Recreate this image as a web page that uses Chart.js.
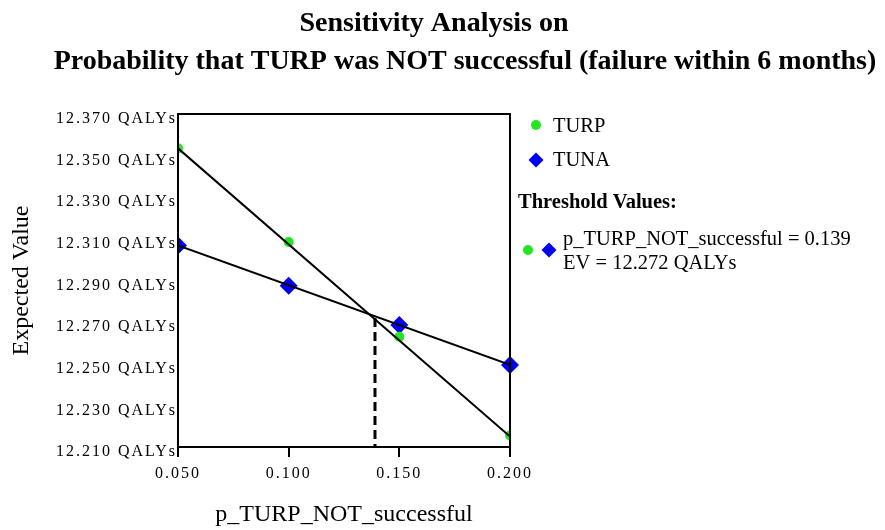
<!DOCTYPE html>
<html>
<head>
<meta charset="utf-8">
<script src="https://cdn.jsdelivr.net/npm/chart.js@4"></script>
<style>
  body { margin: 0; background: #fff; }
  #wrap { width: 885px; height: 530px; }
</style>
</head>
<body>
<div id="wrap"><canvas id="myChart" width="885" height="530"></canvas></div>
<script>
// values
let xValues = [0.05, 0.10, 0.15, 0.20];
let turpEV = [12.3535, 12.3085, 12.2630, 12.2155];
let tunaEV = [12.3068, 12.2875, 12.2686, 12.2494];
// fitted lines as drawn (ends at 0.050 and 0.200)
let lineX = [0.05, 0.20];
let turpLine = [12.3535, 12.2150];
let tunaLine = [12.3068, 12.2495];
let thresholdX = 0.139;
let thresholdEV = 12.272;
let yTicks = [12.21, 12.23, 12.25, 12.27, 12.29, 12.31, 12.33, 12.35, 12.37];
let xTicks = [0.05, 0.10, 0.15, 0.20];

const green = "#22e622";
const blue = "#0000f0";
const serif = "'Liberation Serif', 'Times New Roman', serif";

function pts(xs, ys) {
  return xs.map((x, i) => ({ x: x, y: ys[i] }));
}

// spaced-out tick text like the original export
function spaceLabels(scale, dy) {
  let orig = scale.drawLabels;
  scale.drawLabels = function (area) {
    let c = this.ctx;
    c.save();
    c.letterSpacing = "2px";
    c.translate(0, dy);
    orig.call(this, area);
    c.restore();
  };
}

const extras = {
  id: "extras",
  afterLayout(chart) {
    if (!chart.scales.y._spaced) {
      spaceLabels(chart.scales.y, 5);
      spaceLabels(chart.scales.x, 0);
      chart.scales.y._spaced = true;
    }
  },
  afterDraw(chart) {
    let c = chart.ctx;
    let a = chart.chartArea;
    c.save();
    c.letterSpacing = "0px";
    // frame
    c.strokeStyle = "#000";
    c.lineWidth = 2;
    c.strokeRect(a.left, a.top, a.right - a.left, a.bottom - a.top);

    // title
    c.fillStyle = "#000";
    c.textAlign = "center";
    c.textBaseline = "middle";
    c.font = "bold 28px " + serif;
    c.fillText("Sensitivity Analysis on", 434, 24);
    c.fillText("Probability that TURP was NOT successful (failure within 6 months)", 465, 62);

    // legend
    c.textAlign = "left";
    c.font = "20.5px " + serif;
    c.fillStyle = green;
    c.beginPath(); c.arc(536, 125, 5, 0, Math.PI * 2); c.fill();
    c.fillStyle = blue;
    diamond(c, 536, 160, 7.5);
    c.fillStyle = "#000";
    c.fillText(chart.data.datasets[0].label, 553, 127);
    c.fillText(chart.data.datasets[1].label, 553, 161);

    c.font = "bold 20.5px " + serif;
    c.fillText("Threshold Values:", 518, 203);

    c.fillStyle = green;
    c.beginPath(); c.arc(528, 250, 5, 0, Math.PI * 2); c.fill();
    c.fillStyle = blue;
    diamond(c, 549, 250, 7.5);
    c.fillStyle = "#000";
    c.font = "20.5px " + serif;
    c.fillText("p_TURP_NOT_successful = " + thresholdX.toFixed(3), 563, 240);
    c.fillText("EV = " + thresholdEV.toFixed(3) + " QALYs", 563, 264);
    c.restore();
  }
};

function diamond(c, x, y, r) {
  c.beginPath();
  c.moveTo(x, y - r);
  c.lineTo(x + r, y);
  c.lineTo(x, y + r);
  c.lineTo(x - r, y);
  c.closePath();
  c.fill();
}

let ctx = document.getElementById("myChart").getContext("2d");
let chart = new Chart(ctx, {
  type: "scatter",
  data: {
    datasets: [
      {
        label: "TURP",
        data: pts(xValues, turpEV),
        pointStyle: "circle",
        pointRadius: 5,
        backgroundColor: green,
        borderWidth: 0,
        clip: 0,
        order: 2
      },
      {
        label: "TUNA",
        data: pts(xValues, tunaEV),
        pointStyle: "rectRot",
        pointRadius: 9,
        backgroundColor: blue,
        borderWidth: 0,
        clip: { left: 0, top: 0, bottom: 0, right: false },
        order: 2
      },
      {
        type: "line",
        label: "TURP fit",
        data: pts(lineX, turpLine),
        borderColor: "#000",
        borderWidth: 2,
        pointRadius: 0,
        order: 1
      },
      {
        type: "line",
        label: "TUNA fit",
        data: pts(lineX, tunaLine),
        borderColor: "#000",
        borderWidth: 2,
        pointRadius: 0,
        order: 1
      },
      {
        type: "line",
        label: "Threshold",
        data: [{ x: thresholdX, y: thresholdEV }, { x: thresholdX, y: yTicks[0] }],
        borderColor: "#000",
        borderWidth: 3,
        borderDash: [9, 5],
        pointRadius: 0,
        order: 0
      }
    ]
  },
  options: {
    responsive: false,
    animation: false,
    layout: { padding: { top: 114, right: 375, left: 0, bottom: 0 } },
    plugins: {
      legend: { display: false },
      tooltip: { enabled: false },
      title: { display: false }
    },
    scales: {
      x: {
        type: "linear",
        min: xTicks[0],
        max: xTicks[xTicks.length - 1],
        afterBuildTicks: s => { s.ticks = xTicks.map(v => ({ value: v })); },
        afterFit: s => { s.height = 83; },
        grid: { drawOnChartArea: false, drawTicks: true, tickLength: 10, color: "#000", lineWidth: 2 },
        border: { color: "#000", width: 2 },
        ticks: {
          color: "#000",
          padding: 7,
          maxRotation: 0,
          font: { family: serif, size: 16 },
          callback: v => v.toFixed(3)
        },
        title: {
          display: true,
          text: "p_TURP_NOT_successful",
          color: "#000",
          font: { family: serif, size: 24 },
          padding: { top: 0, bottom: 1 }
        }
      },
      y: {
        type: "linear",
        min: yTicks[0],
        max: yTicks[yTicks.length - 1],
        afterBuildTicks: s => { s.ticks = yTicks.map(v => ({ value: v })); },
        afterFit: s => { s.width = 178; },
        grid: { display: false, drawTicks: false },
        border: { color: "#000", width: 2 },
        ticks: {
          color: "#000",
          padding: 1,
          font: { family: serif, size: 16 },
          callback: v => v.toFixed(3) + " QALYs"
        },
        title: {
          display: true,
          text: "Expected Value",
          color: "#000",
          font: { family: serif, size: 24 },
          padding: { top: 7, bottom: 0 }
        }
      }
    }
  },
  plugins: [extras]
});
</script>
</body>
</html>
